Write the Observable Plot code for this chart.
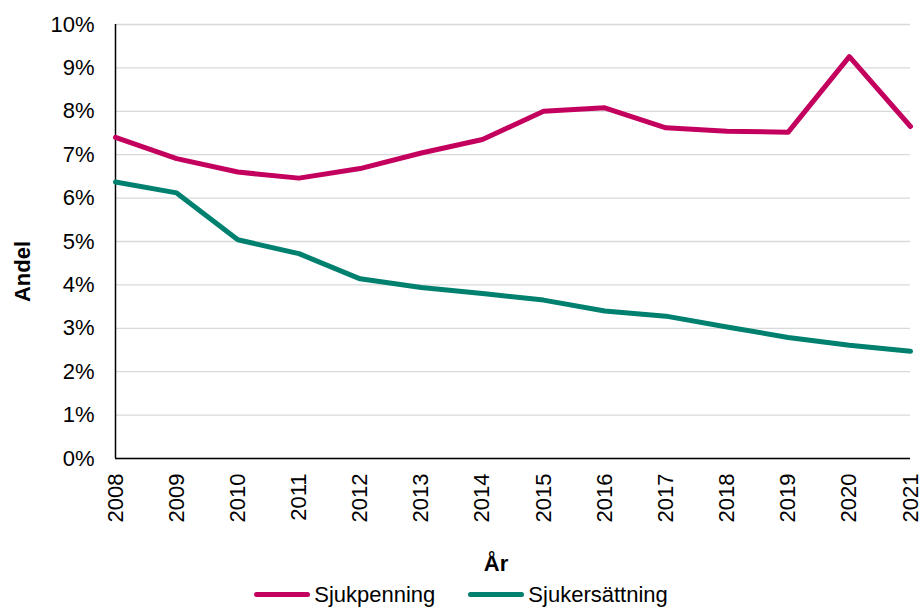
<!DOCTYPE html>
<html>
<head>
<meta charset="utf-8">
<script src="https://cdn.jsdelivr.net/npm/d3@7"></script>
<script src="https://cdn.jsdelivr.net/npm/@observablehq/plot@0.6"></script>
<style>
  html, body { margin: 0; padding: 0; background: #fff; }
  body { width: 922px; height: 611px; overflow: hidden; font-family: Arial, "Liberation Sans", sans-serif; }
  #legend { height: 33px; display: flex; align-items: center; justify-content: center; font-size: 22px; color: #000; gap: 33px; }
  .item { display: flex; align-items: center; }
  .sw { width: 56px; height: 5px; border-radius: 3px; margin-right: 4px; }
</style>
</head>
<body>
<div id="chart"></div>
<div id="legend"></div>
<script>
const years = [2008, 2009, 2010, 2011, 2012, 2013, 2014, 2015, 2016, 2017, 2018, 2019, 2020, 2021];
const sjukpenning = [7.40, 6.91, 6.60, 6.46, 6.68, 7.04, 7.35, 8.00, 8.08, 7.62, 7.54, 7.52, 9.26, 7.65];
const sjukersattning = [6.37, 6.12, 5.04, 4.72, 4.14, 3.94, 3.80, 3.65, 3.40, 3.28, 3.03, 2.79, 2.61, 2.47];
const seriesNames = ["Sjukpenning", "Sjukersättning"];
const seriesColors = ["#C4005F", "#00806F"];
const yTicks = [0, 1, 2, 3, 4, 5, 6, 7, 8, 9, 10];
const yLabel = "Andel";
const xLabel = "År";

const seriesValues = [sjukpenning, sjukersattning];
const table = [];
seriesNames.forEach((name, si) => {
  years.forEach((yr, i) => table.push({year: yr, value: seriesValues[si][i], series: name}));
});

const chart = Plot.plot({
  width: 922,
  height: 578,
  marginLeft: 115,
  marginRight: 12,
  marginTop: 24,
  marginBottom: 120,
  style: {fontFamily: "Arial, 'Liberation Sans', sans-serif", fontSize: "22px", color: "#000", background: "#fff"},
  x: {domain: [2008, 2021]},
  y: {domain: [0, 10]},
  color: {domain: seriesNames, range: seriesColors},
  marks: [
    Plot.gridY(yTicks, {stroke: "#d9d9d9", strokeOpacity: 1, strokeWidth: 1.3}),
    Plot.axisY(yTicks, {tickSize: 0, tickPadding: 21, tickFormat: d => d + "%", label: null}),
    Plot.axisX(years, {tickSize: 0, tickPadding: 15, tickRotate: -90, tickFormat: d => String(d), label: null}),
    Plot.ruleX([2008], {stroke: "#000", strokeWidth: 1.5}),
    Plot.ruleY([0], {stroke: "#000", strokeWidth: 1.5}),
    Plot.line(table, {x: "year", y: "value", stroke: "series", strokeWidth: 5, strokeLinejoin: "round", strokeLinecap: "round"}),
    Plot.text([yLabel], {text: d => d, frameAnchor: "left", textAnchor: "middle", lineAnchor: "middle", rotate: -90, dx: -93, dy: 30, fontWeight: "bold", fontSize: 22}),
    Plot.text([xLabel], {text: d => d, frameAnchor: "bottom", textAnchor: "middle", lineAnchor: "middle", dx: -17, dy: 105, fontWeight: "bold", fontSize: 22})
  ]
});
document.getElementById("chart").appendChild(chart);

const legend = document.getElementById("legend");
seriesNames.forEach((name, i) => {
  const item = document.createElement("div");
  item.className = "item";
  const sw = document.createElement("span");
  sw.className = "sw";
  sw.style.background = seriesColors[i];
  const label = document.createElement("span");
  label.textContent = name;
  item.appendChild(sw);
  item.appendChild(label);
  legend.appendChild(item);
});
</script>
</body>
</html>
